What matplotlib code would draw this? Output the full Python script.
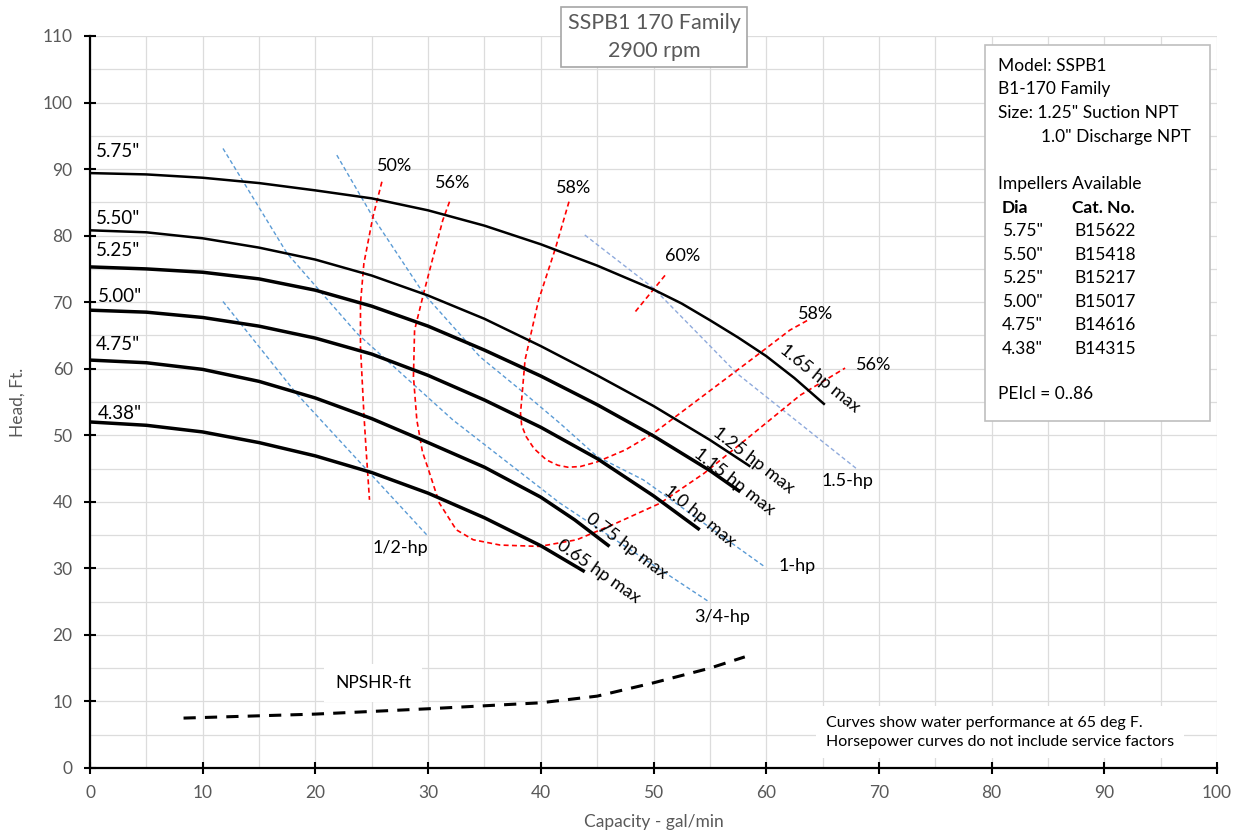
import matplotlib
matplotlib.use("Agg")
import matplotlib.pyplot as plt

plt.rcParams["font.family"] = ["Lato", "DejaVu Sans"]

# -------- DATA --------
# head curves per impeller diameter (capacity gal/min, head ft)
dia_labels = ['5.75"', '5.50"', '5.25"', '5.00"', '4.75"', '4.38"']
q_575 = [0, 5, 10, 15, 20, 25, 30, 35, 40, 45, 50, 52.5, 55, 57.5, 60, 62.5, 65.2]
h_575 = [89.4, 89.2, 88.7, 87.9, 86.8, 85.6, 83.8, 81.5, 78.7, 75.5, 71.9, 69.8, 67.3, 64.7, 61.9, 58.6, 54.6]
q_550 = [0, 5, 10, 15, 20, 25, 30, 35, 40, 45, 50, 55, 58.6]
h_550 = [80.8, 80.5, 79.6, 78.2, 76.4, 74.0, 71.0, 67.5, 63.4, 59.0, 54.4, 49.3, 45.3]
q_525 = [0, 5, 10, 15, 20, 25, 30, 35, 40, 45, 50, 55, 57.7]
h_525 = [75.3, 75.0, 74.5, 73.5, 71.8, 69.4, 66.4, 62.8, 58.9, 54.6, 49.9, 44.7, 41.5]
q_500 = [0, 5, 10, 15, 20, 25, 30, 35, 40, 45, 50, 54.1]
h_500 = [68.8, 68.5, 67.7, 66.4, 64.6, 62.2, 59.0, 55.3, 51.2, 46.5, 40.9, 35.8]
q_475 = [0, 5, 10, 15, 20, 25, 30, 35, 40, 43, 46.1]
h_475 = [61.3, 60.9, 59.9, 58.1, 55.6, 52.5, 48.9, 45.2, 40.7, 37.3, 33.3]
q_438 = [0, 5, 10, 15, 20, 25, 30, 35, 40, 43.9]
h_438 = [52.0, 51.5, 50.5, 48.9, 46.9, 44.4, 41.3, 37.6, 33.4, 29.5]
dia_label_pos = [(0.5, 92.6), (0.5, 82.6), (0.5, 77.8), (0.7, 70.8), (0.5, 63.6), (0.7, 53.3)]

# max hp labels at the curve ends
hp_max_labels = ["1.65 hp max", "1.25 hp max", "1.15 hp max", "1.0 hp max", "0.75 hp max", "0.65 hp max"]
hp_max_pos = [(64.8, 58.6), (58.9, 46.3), (57.2, 43.0), (54.1, 37.8), (47.6, 33.3), (45.1, 29.6)]
hp_max_rot = [-39, -37.5, -38, -39, -37, -35]

# efficiency curves
eff50_q = [25.9, 25.1, 24.3, 24.0, 24.0, 24.3, 24.5, 24.8]
eff50_h = [88.1, 82.8, 75.8, 69.8, 63.3, 53.3, 47.8, 40.3]
eff56_q = [31.9, 31.3, 30.4, 29.6, 28.8, 28.7, 29.0, 29.5, 30.0, 31.0, 32.5, 34.0, 36.4, 39.9,
           43.2, 46.7, 50.6, 54.5, 58.3, 63.0, 67.0]
eff56_h = [85.1, 82.3, 76.5, 71.3, 65.8, 58.8, 52.3, 47.5, 45.0, 39.8, 35.8, 34.3, 33.5, 33.3,
           34.3, 36.8, 39.8, 44.3, 49.5, 56.0, 60.1]
eff58_q = [42.5, 41.3, 39.8, 38.6, 38.2, 38.3, 38.7, 39.4, 40.5, 41.5, 42.4, 43.5, 45.0, 47.5,
           50.0, 54.7, 59.4, 62.1, 63.7]
eff58_h = [85.1, 78.1, 70.3, 61.3, 53.3, 51.5, 49.8, 48.0, 46.3, 45.5, 45.2, 45.3, 46.0, 47.8,
           50.3, 56.3, 62.3, 65.8, 67.3]
eff60_q = [48.4, 51.2]
eff60_h = [68.6, 74.4]
eff_labels = ["50%", "56%", "58%", "60%", "58%", "56%"]
eff_label_pos = [(27.0, 90.5), (32.2, 87.9), (42.9, 87.2), (52.6, 76.9), (64.4, 68.2), (69.5, 60.6)]

# horsepower lines
hp05_q = [11.8, 18.3, 29.9]
hp05_h = [70.1, 56.3, 35.0]
hp075_q = [11.8, 17.5, 23.7, 32.2, 41.7, 54.9]
hp075_h = [93.1, 77.3, 65.3, 52.3, 39.8, 25.0]
hp1_q = [21.9, 25.1, 29.6, 34.6, 38.2, 41.7, 45.0, 49.1, 59.9]
hp1_h = [92.1, 82.8, 71.3, 61.8, 56.8, 51.8, 46.8, 43.3, 30.2]
hp15_q = [43.9, 50.0, 57.4, 68.0]
hp15_h = [80.1, 72.1, 59.3, 45.0]
hp_labels = ["1/2-hp", "3/4-hp", "1-hp", "1.5-hp"]
hp_label_pos = [(27.5, 33.1), (56.1, 22.7), (62.7, 30.4), (67.2, 43.1)]

# NPSHR
npsh_q = [8.3, 20, 30, 40, 45, 50, 55, 58.1]
npsh_h = [7.5, 8.1, 8.9, 9.8, 10.8, 12.8, 15.0, 16.7]

info_lines = ["Model: SSPB1", "B1-170 Family", 'Size: 1.25" Suction NPT']
info_line4 = '1.0" Discharge NPT'
imp_dia = ['5.75"', '5.50"', '5.25"', '5.00"', '4.75"', '4.38"']
imp_cat = ["B15622", "B15418", "B15217", "B15017", "B14616", "B14315"]

# ------------------------

W, H = 1238, 835
GREY = "#595959"
RED = "#ff0000"
BLUE = "#5b9bd5"
LAV = "#8faadc"
FS = 12.5


def fx(px):
    return px / W


def fy(py):
    return 1 - py / H


fig = plt.figure(figsize=(W / 100, H / 100), dpi=100)
ax = fig.add_axes([fx(90), fy(768), fx(1217) - fx(90), fy(36) - fy(768)])

ax.set_xlim(0, 100)
ax.set_ylim(0, 110)
ax.set_xticks(range(0, 101, 10))
ax.set_yticks(range(0, 111, 10))
for v in range(0, 101, 5):
    ax.axvline(v, color="#dcdcdc", lw=0.9, zorder=0)
for v in range(0, 111, 5):
    ax.axhline(v, color="#dcdcdc", lw=0.9, zorder=0)
for s in ["top", "right"]:
    ax.spines[s].set_visible(False)
for s in ["left", "bottom"]:
    ax.spines[s].set_linewidth(1.6)
ax.tick_params(direction="inout", length=9, width=1.5, labelsize=FS, labelcolor=GREY, pad=8)
ax.set_xlabel("Capacity - gal/min", fontsize=FS, color=GREY, labelpad=9)
ax.set_ylabel("Head, Ft.", fontsize=FS, color=GREY, labelpad=12)

# head curves
heads = [(q_575, h_575, 1.8), (q_550, h_550, 1.8), (q_525, h_525, 2.5),
         (q_500, h_500, 2.5), (q_475, h_475, 2.5), (q_438, h_438, 2.5)]
for (q, h, lw), lab, pos in zip(heads, dia_labels, dia_label_pos):
    ax.plot(q, h, color="black", lw=lw, zorder=4, solid_capstyle="butt", solid_joinstyle="round")
    ax.text(pos[0], pos[1], lab, fontsize=13.5, ha="left", va="center", zorder=5)

for lab, pos, rot in zip(hp_max_labels, hp_max_pos, hp_max_rot):
    ax.text(pos[0], pos[1], lab, fontsize=13, rotation=rot, rotation_mode="anchor",
            ha="center", va="center", zorder=5)

# efficiency
for q, h in [(eff50_q, eff50_h), (eff56_q, eff56_h), (eff58_q, eff58_h), (eff60_q, eff60_h)]:
    ax.plot(q, h, color=RED, lw=1.2, ls=(0, (3, 2)), zorder=3)
for lab, pos in zip(eff_labels, eff_label_pos):
    ax.text(pos[0], pos[1], lab, fontsize=13, ha="center", va="center", zorder=5)

# hp lines
for q, h, c in [(hp05_q, hp05_h, BLUE), (hp075_q, hp075_h, BLUE), (hp1_q, hp1_h, BLUE), (hp15_q, hp15_h, LAV)]:
    ax.plot(q, h, color=c, lw=1.0, ls=(0, (3, 2)), zorder=2)
for lab, pos in zip(hp_labels, hp_label_pos):
    ax.text(pos[0], pos[1], lab, fontsize=13, ha="center", va="center", zorder=5)

# NPSHR
ax.plot(npsh_q, npsh_h, color="black", lw=2.2, ls=(0, (4, 3)), zorder=3)
ax.text(25.1, 12.8, "NPSHR-ft", fontsize=FS, ha="center", va="center", zorder=5,
        bbox=dict(facecolor="white", edgecolor="none", pad=8))

# footnote
ax.text(0.653, 0.049, "Curves show water performance at 65 deg F.\nHorsepower curves do not include service factors",
        transform=ax.transAxes, fontsize=11.5, ha="left", va="center", linespacing=1.45, zorder=5,
        bbox=dict(facecolor="white", edgecolor="none", pad=7))

# title box
fig.text(fx(654), fy(37), "SSPB1 170 Family\n2900 rpm", fontsize=15.5, color=GREY, ha="center",
         va="center", linespacing=1.5,
         bbox=dict(facecolor="white", edgecolor="#a6a6a6", lw=1.2, boxstyle="square,pad=0.3"))

# info box
box = plt.Rectangle((fx(985), fy(421)), fx(1210) - fx(985), fy(45) - fy(421), transform=fig.transFigure,
                    facecolor="white", edgecolor="#bfbfbf", lw=1.2, zorder=6)
fig.patches.append(box)
ys = [66, 89, 113]
for line, y in zip(info_lines, ys):
    fig.text(fx(998), fy(y), line, fontsize=FS, va="center", zorder=7)
fig.text(fx(1041), fy(137), info_line4, fontsize=FS, va="center", zorder=7)
fig.text(fx(998), fy(184), "Impellers Available", fontsize=FS, va="center", zorder=7)
fig.text(fx(1002), fy(208), "Dia", fontsize=FS, weight="bold", va="center", zorder=7)
fig.text(fx(1072), fy(208), "Cat. No.", fontsize=FS, weight="bold", va="center", zorder=7)
for i, (d, c) in enumerate(zip(imp_dia, imp_cat)):
    y = 231 + i * 23.6
    fig.text(fx(1002), fy(y), d, fontsize=FS, va="center", zorder=7)
    fig.text(fx(1074), fy(y), c, fontsize=FS, va="center", zorder=7)
fig.text(fx(998), fy(394), "PEIcl = 0..86", fontsize=FS, va="center", zorder=7)

fig.savefig("out.png", dpi=100)
